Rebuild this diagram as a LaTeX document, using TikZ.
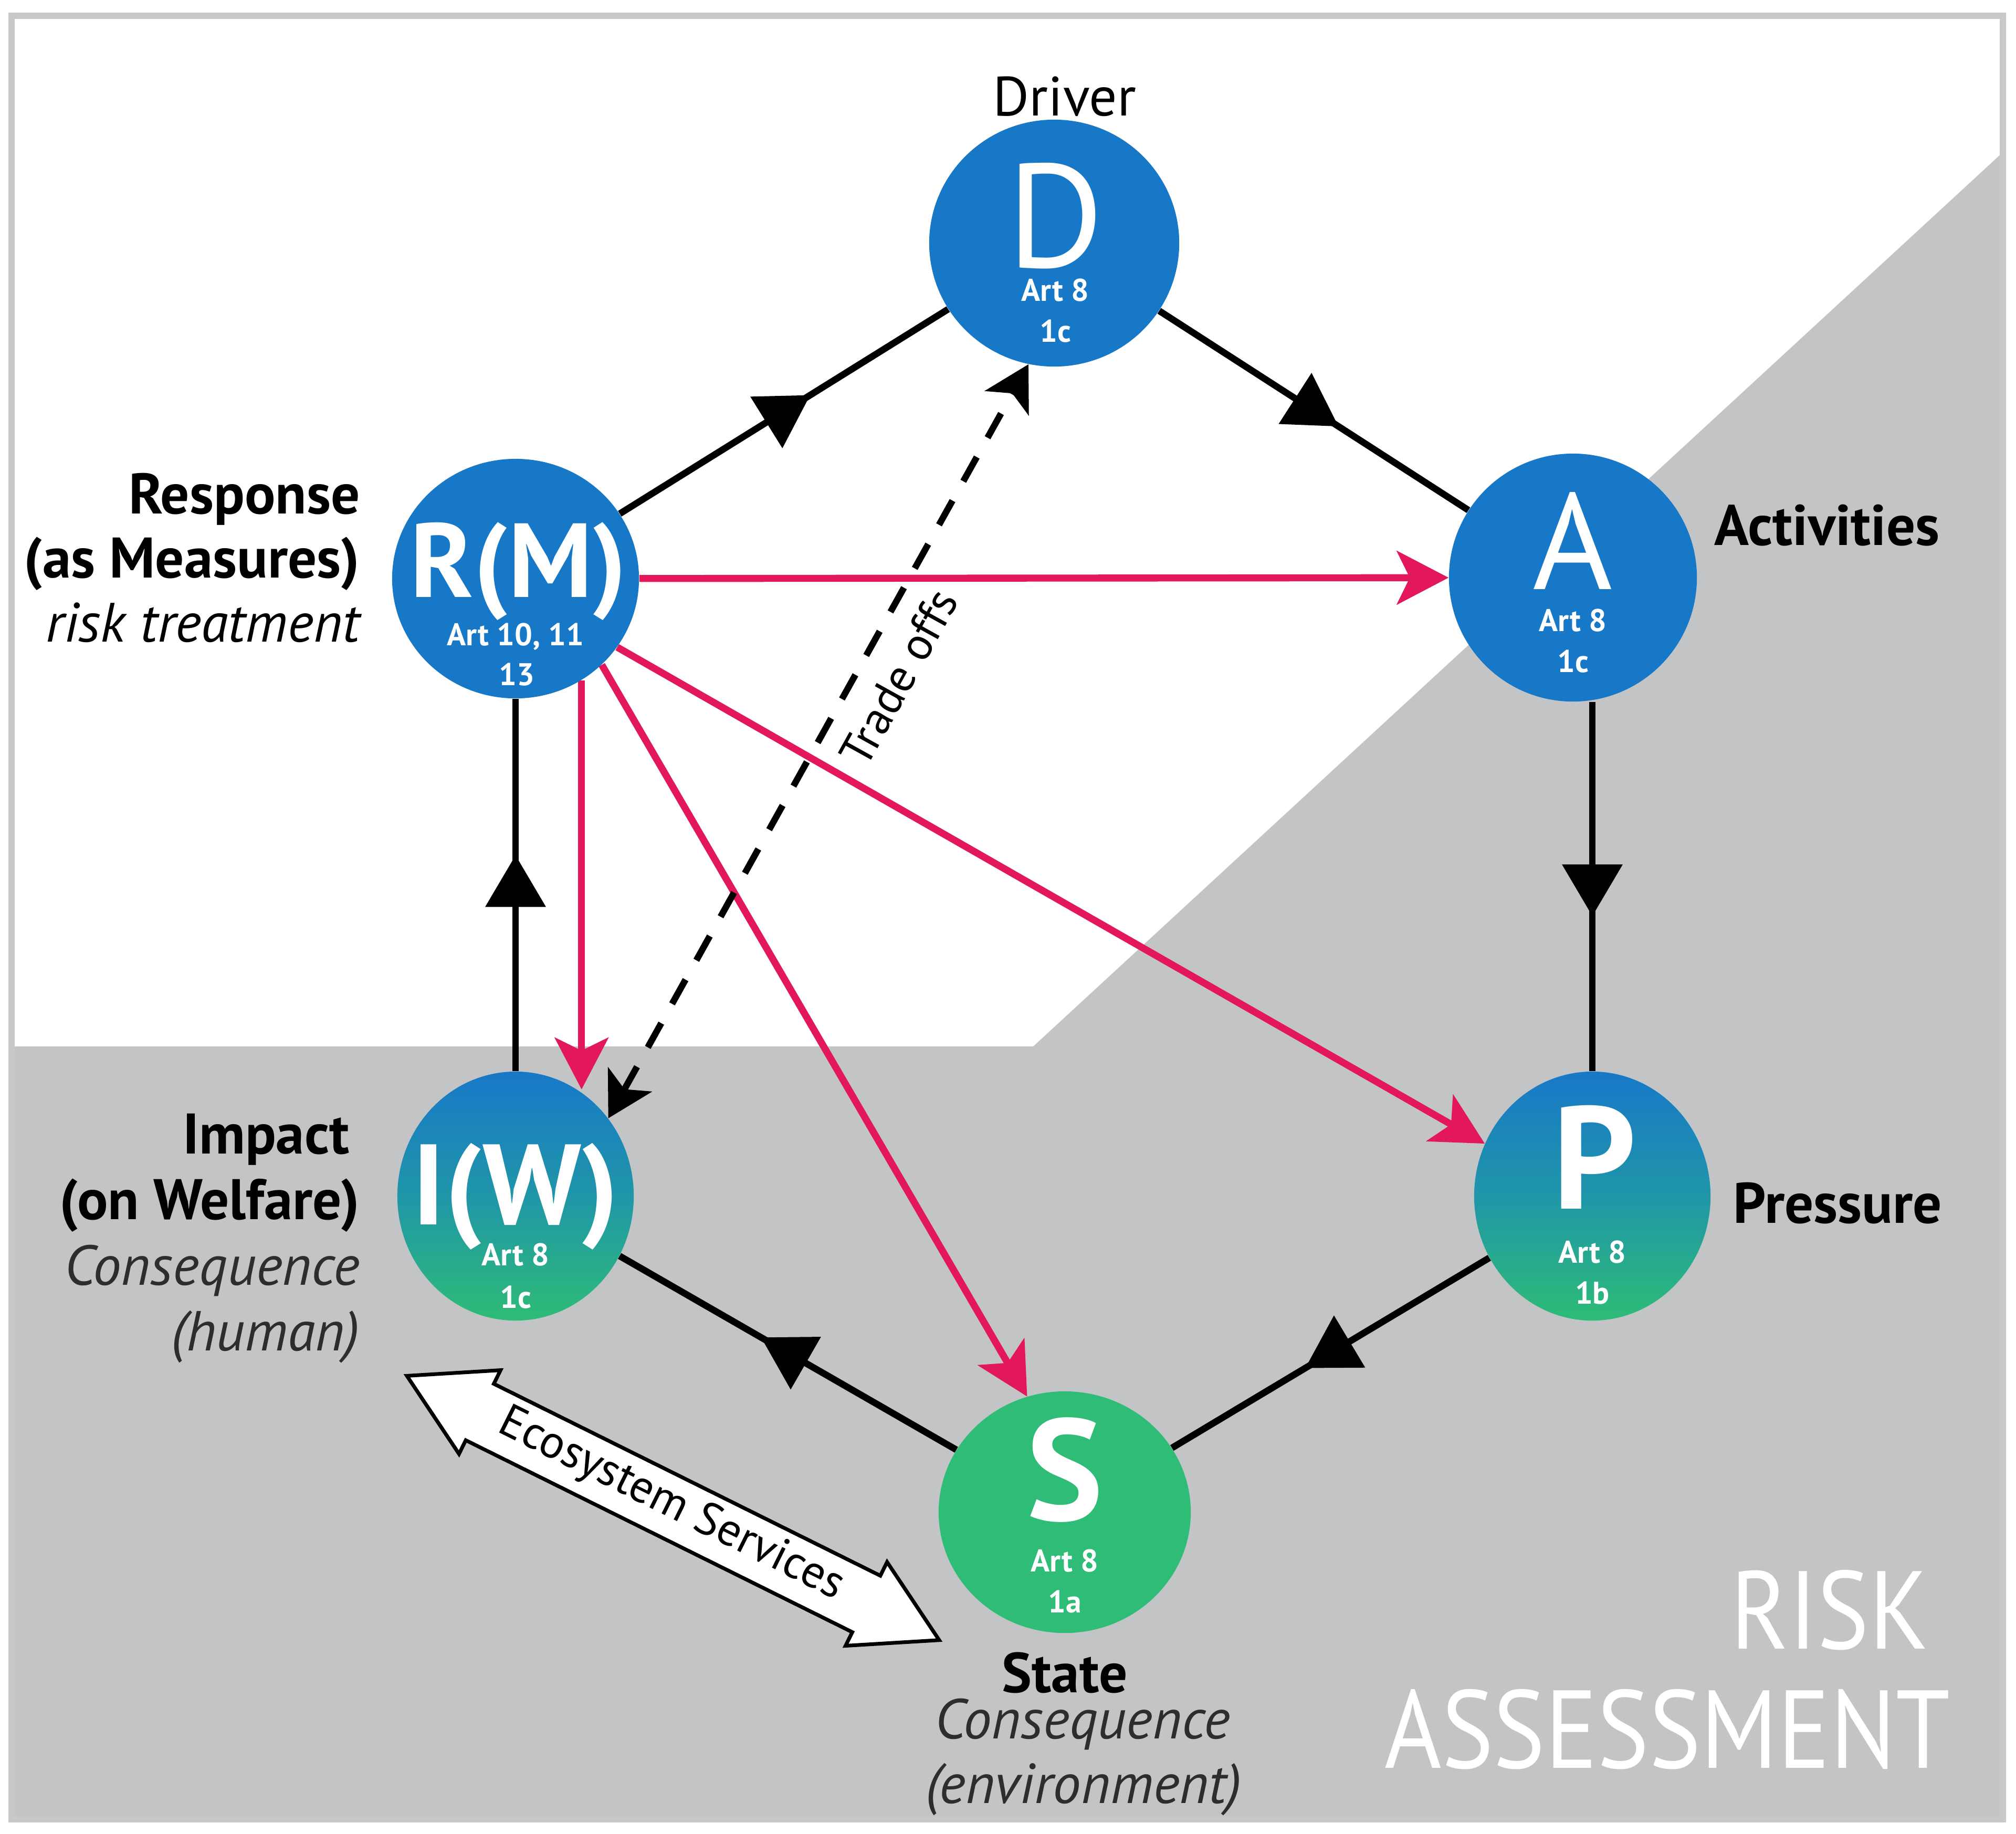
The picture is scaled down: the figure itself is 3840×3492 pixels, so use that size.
\documentclass[tikz,border=0pt]{standalone}
\usepackage{fontspec}
\setmainfont{PT Sans}
\newfontfamily\condfont[FakeStretch=0.88]{PT Sans}
\usetikzlibrary{arrows.meta,decorations.markings,calc,shapes.geometric}
\pgfdeclarelayer{bg}
\pgfdeclarelayer{lines}
\pgfsetlayers{bg,lines,main}
\definecolor{dblue}{RGB}{24,120,200}
\definecolor{dgreen}{RGB}{46,188,118}
\definecolor{midteal}{RGB}{32,150,168}
\definecolor{dpink}{RGB}{226,24,90}
\definecolor{dgray}{RGB}{195,196,198}
\definecolor{framegray}{RGB}{200,200,202}
\definecolor{conscol}{RGB}{45,45,45}
\begin{document}
\begin{tikzpicture}[x=0.01cm,y=-0.01cm,
  circ/.style={ellipse, inner sep=0pt, draw=none},
  gradc/.style={top color=dblue, bottom color=dgreen, middle color=midteal},
  bigl/.style={text=white, inner sep=0pt, anchor=base},
  art/.style={text=white, inner sep=0pt, anchor=base, font=\fontsize{17pt}{17pt}\selectfont\bfseries},
  lblr/.style={inner sep=0pt, anchor=base east, font=\fontsize{31pt}{36pt}\selectfont\bfseries},
  lbll/.style={inner sep=0pt, anchor=base west, font=\fontsize{31pt}{36pt}\selectfont\bfseries},
  lbli/.style={inner sep=0pt, anchor=base east, text=conscol, font=\fontsize{30.5pt}{36pt}\selectfont\itshape},
  cyc/.style={line width=3.6pt, postaction={decorate},
    decoration={markings, mark=at position 0.58 with {\arrow{Triangle[length=28pt,width=32pt]}}}},
  pinkarr/.style={line width=3.8pt, draw=dpink, -{Stealth[length=28pt,width=29pt,inset=7pt,color=dpink]}},
  dasharr/.style={line width=3.5pt, dash pattern=on 15pt off 12pt,
    {Stealth[length=24pt,width=27pt,inset=6pt]}-{Stealth[length=24pt,width=27pt,inset=6pt]}}
]
\useasboundingbox (0,0) rectangle (3840,3492);

\begin{pgfonlayer}{bg}
  \fill[white] (0,0) rectangle (3840,3492);
  \fill[dgray] (22,1993) -- (1968,1993) -- (3815,290) -- (3815,3465) -- (22,3465) -- cycle;
  \draw[framegray, line width=3.4pt] (22,30) rectangle (3815,3465);
\end{pgfonlayer}

% circles
\node[circ, fill=dblue, minimum width=4.76cm, minimum height=4.70cm] (D) at (2008,463) {};
\node[circ, fill=dblue, minimum width=4.72cm, minimum height=4.72cm] (A) at (2996,1100) {};
\node[circ, fill=dblue, minimum width=4.70cm, minimum height=4.56cm] (RM) at (982,1102) {};
\node[circ, gradc, minimum width=4.50cm, minimum height=4.74cm] (IW) at (982,2278) {};
\node[circ, gradc, minimum width=4.50cm, minimum height=4.74cm] (P) at (3033,2278) {};
\node[circ, fill=dgreen, minimum width=4.80cm, minimum height=4.60cm] (S) at (2028,2880) {};

% circle texts
\node[bigl, font=\fontsize{80pt}{80pt}\selectfont] (Dl) at (2010,509) {D};
\node[art] (Da1) at (2010,573) {Art 8};
\node[art] (Da2) at (2010,651) {1c};

\node[bigl, font=\fontsize{74pt}{74pt}\selectfont] (Al) at (2996,1122) {A};
\node[art] (Aa1) at (2996,1202) {Art 8};
\node[art] (Aa2) at (2996,1280) {1c};

\node[bigl, font=\fontsize{57pt}{57pt}\selectfont\bfseries] (RMl) at (988,1137) {R(M)};
\node[art] (RMa1) at (982,1229) {Art 10, 11};
\node[art] (RMa2) at (984,1305) {13};

\node[bigl, font=\fontsize{62pt}{62pt}\selectfont\bfseries] (IWl) at (982,2332) {I(W)};
\node[art] (IWa1) at (982,2410) {Art 8};
\node[art] (IWa2) at (982,2491) {1c};

\node[bigl, font=\fontsize{79pt}{79pt}\selectfont\bfseries] (Pl) at (3037,2302) {P};
\node[art] (Pa1) at (3033,2405) {Art 8};
\node[art] (Pa2) at (3033,2483) {1b};

\node[bigl, font=\fontsize{78pt}{78pt}\selectfont\bfseries] (Sl) at (2028,2895) {S};
\node[art] (Sa1) at (2028,2993) {Art 8};
\node[art] (Sa2) at (2028,3071) {1a};

% connectors
\begin{pgfonlayer}{lines}
  \draw[cyc] (RM) -- (D);
  \draw[cyc] (D) -- (A);
  \draw[cyc] (A.south -| P.north) -- (P.north);
  \draw[cyc] (P) -- (S);
  \draw[cyc] (S) -- (IW);
  \draw[cyc] (IW) -- (RM);

  \draw[pinkarr] (RM) -- (A);
  \draw[pinkarr] (RM.-34) -- (P.154);
  \draw[pinkarr] (RM.-45) -- (S.108);
  \draw[pinkarr] (RM.-57) -- (RM.-57 |- IW.60);

  \draw[dasharr] (IW.40) -- (D.-102);
\end{pgfonlayer}

\node[rotate=61, inner sep=0pt, font=\fontsize{25pt}{25pt}\selectfont] (trade) at (1712,1290) {Trade offs};

% ecosystem services double arrow
\begin{scope}[shift={(1282,2872)}, rotate=-26.4]
  \draw[line width=2pt, fill=white, line join=miter]
    (-566,0) -- (-411,-89) -- (-411,-60) -- (411,-60) -- (411,-89) -- (566,0)
    -- (411,89) -- (411,60) -- (-411,60) -- (-411,89) -- cycle;
\end{scope}
\node[rotate=-26.4, inner sep=0pt, font=\fontsize{25pt}{25pt}\selectfont] (eco) at (1278,2866) {Ecosystem Services};

% labels
\node[inner sep=0pt, anchor=base, font=\fontsize{30pt}{36pt}\selectfont] (driver) at (2028,220) {Driver};

\node[lblr] (resp1) at (686,978) {Response};
\node[lblr] (resp2) at (686,1100) {(as Measures)};
\node[lblr, font=\fontsize{30pt}{36pt}\selectfont\itshape] (resp3) at (686,1222) {risk treatment};

\node[lbll] (act) at (3265,1038) {Activities};
\node[lbll] (pres) at (3301,2329) {Pressure};

\node[lblr] (imp1) at (666,2197) {Impact};
\node[lblr] (imp2) at (686,2322) {(on Welfare)};
\node[lbli] (imp3) at (686,2447) {Consequence};
\node[lbli] (imp4) at (686,2572) {(human)};

\node[inner sep=0pt, anchor=base, font=\fontsize{30.5pt}{36pt}\selectfont\bfseries] (state1) at (2028,3223) {State};
\node[inner sep=0pt, anchor=base, text=conscol, font=\fontsize{30.5pt}{36pt}\selectfont\itshape] (state2) at (2062,3311) {Consequence};
\node[inner sep=0pt, anchor=base, text=conscol, font=\fontsize{30.5pt}{36pt}\selectfont\itshape] (state3) at (2064,3434) {(environment)};

\node[inner sep=0pt, anchor=base east, text=white, font=\condfont\fontsize{60pt}{60pt}\selectfont] (risk1) at (3674,3140) {RISK};
\node[inner sep=0pt, anchor=base east, text=white, font=\condfont\fontsize{60pt}{60pt}\selectfont] (risk2) at (3715,3367) {ASSESSMENT};
\end{tikzpicture}
\end{document}
